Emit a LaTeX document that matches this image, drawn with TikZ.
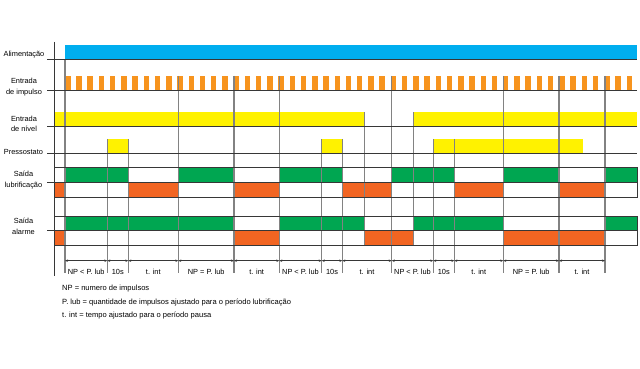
\documentclass[tikz,border=0pt]{standalone}
\usepackage{fontspec}
\setmainfont{Liberation Sans}
\usetikzlibrary{arrows.meta}
\definecolor{alimblue}{RGB}{0,174,239}
\definecolor{pulseorange}{RGB}{247,148,30}
\definecolor{levelyellow}{RGB}{255,242,0}
\definecolor{outgreen}{RGB}{0,166,81}
\definecolor{outred}{RGB}{242,101,34}
\definecolor{gridgray}{RGB}{130,130,130}
\definecolor{linegray}{RGB}{55,55,55}

\begin{document}
\begin{tikzpicture}[x=1pt, y=-1pt, >={Stealth[length=3pt,width=2.4pt]},
		font=\fontsize{7.4}{10.5}\selectfont,
		rowline/.style={draw=linegray, line width=0.9pt},
		gridline/.style={draw=gridgray, line width=1.1pt},
		dimarrow/.style={<->, draw=linegray, line width=0.5pt},
		lab/.style={align=center, inner sep=0pt},
		legend/.style={anchor=west, inner sep=0pt, font=\fontsize{7.55}{8}\selectfont}]
		\useasboundingbox (0,0) rectangle (640,369);
		\fill[white] (0,0) rectangle (640,369);
		% signals
		\fill[alimblue] (65,45) rectangle (637,59);
		\foreach \k in {0,...,50}
			\fill[pulseorange] ({65+11.23*\k},76) rectangle ++(5.5,14.5);
		\foreach \a/\b in {55/364.3, 413.3/637}
			\fill[levelyellow] (\a,112) rectangle (\b,126);
		\foreach \a/\b in {107.3/128.3, 321.7/342.3, 433.3/583.3}
			\fill[levelyellow] (\a,139) rectangle (\b,153.5);
		% saida lubrificacao
		\foreach \a/\b in {65/128.3, 178.3/234, 279.3/342.3, 391.7/454.3, 503.3/559, 605/637}
			\fill[outgreen] (\a,167) rectangle (\b,182);
		\foreach \a/\b in {54/65, 128.3/178.3, 234/279.3, 342.3/391.7, 454.3/503.3, 559/605}
			\fill[outred] (\a,182) rectangle (\b,197);
		% saida alarme
		\foreach \a/\b in {65/234, 279.3/364.3, 413.3/503.3, 605/637}
			\fill[outgreen] (\a,216) rectangle (\b,230);
		\foreach \a/\b in {54/65, 234/279.3, 364.3/413.3, 503.3/605}
			\fill[outred] (\a,230) rectangle (\b,245);
		% event lines
		\foreach \x/\top/\bot in {65/59/273, 107.3/139/273, 128.3/139/273, 178.3/76/273,
				234/76/273, 279.3/76/273, 321.7/139/273, 342.3/139/273, 364.3/112/245,
				391.7/76/273, 413.3/112/245, 433.3/139/273, 454.3/139/273, 503.3/76/273,
				559/76/273, 605/76/273}
			\draw[gridline] (\x,\top) -- (\x,\bot);
		% axis and rows
		\draw[rowline] (54,42) -- (54,276);
		\foreach \y in {59, 90.5, 126, 153.5, 182, 230}
			\draw[rowline] (47,\y) -- (637,\y);
		\draw[rowline] (54,167) -- (637,167) -- (637,197) -- (54,197);
		\draw[rowline] (54,216) -- (637,216) -- (637,245) -- (54,245);
		% row labels
		\node[lab] (alim) at (24,55) {Alimentação};
		\node[lab] (impulso) at (24,87) {Entrada\\de impulso};
		\node[lab] (nivel) at (24,124) {Entrada\\de nível};
		\node[lab] (press) at (23.5,151.5) {Pressostato};
		\node[lab] (lub) at (23.5,180) {Saída\\lubrificação};
		\node[lab] (alarme) at (23.5,226.5) {Saída\\alarme};
		% periods
		\foreach \x [count=\i] in {65,107.3,128.3,178.3,234,279.3,321.7,342.3,391.7,433.3,454.3,503.3,559,605}
			\coordinate (t\i) at (\x,260.7);
		\foreach \i/\j/\txt in {1/2/NP < P. lub, 2/3/10s, 3/4/t. int, 4/5/NP = P. lub, 5/6/t. int,
				6/7/NP < P. lub, 7/8/10s, 8/9/t. int, 9/10/NP < P. lub, 10/11/10s, 11/12/t. int,
				12/13/NP = P. lub, 13/14/t. int} {
			\draw[dimarrow] (t\i) -- (t\j);
			\path (t\i) -- (t\j) node[midway, yshift=-11pt, inner sep=0pt] (d\i) {\txt};
		}
		% legend
		\node[legend] (np) at (62,289) {NP = numero de impulsos};
		\node[legend] (plub) at (62,302.5) {P. lub = quantidade de impulsos ajustado para o período lubrificação};
		\node[legend] (tint) at (62,315.5) {t. int = tempo ajustado para o período pausa};
	\end{tikzpicture}
\end{document}
